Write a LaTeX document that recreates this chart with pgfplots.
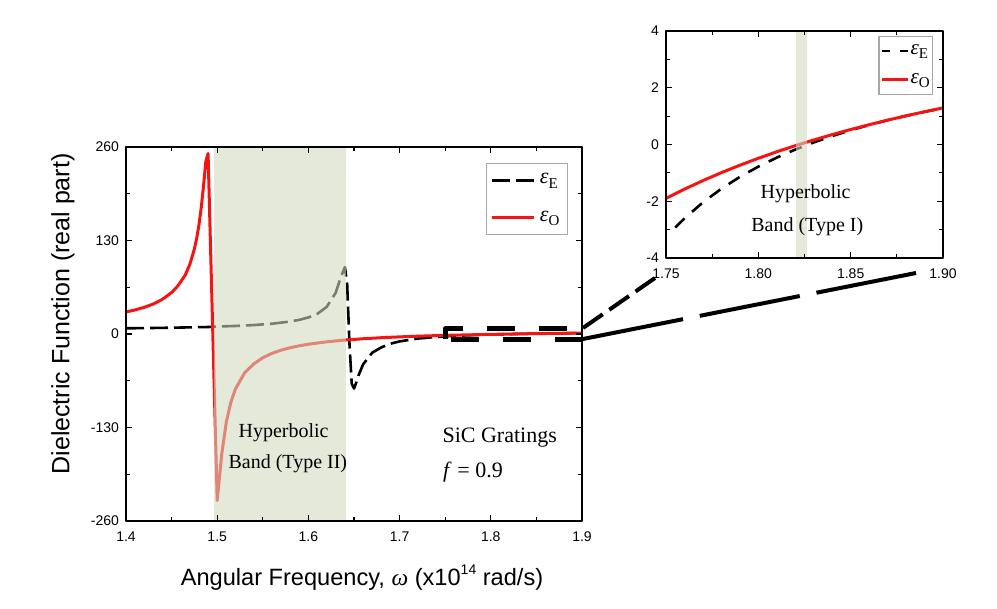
\documentclass[border=0pt]{standalone}
\usepackage{fontspec}
\setmainfont{Liberation Sans}
\newfontfamily\serif{Liberation Serif}
\usepackage{pgfplots}
\pgfplotsset{compat=1.18}
\definecolor{bandc}{RGB}{208,217,191}
\definecolor{myred}{RGB}{245,20,20}
\newcommand{\epsE}{{\serif\itshape ε}\raisebox{-0.4ex}{\serif\fontsize{7.5}{7.5}\selectfont E}}
\newcommand{\epsO}{{\serif\itshape ε}\raisebox{-0.4ex}{\serif\fontsize{7.5}{7.5}\selectfont O}}
\pgfplotsset{
  common/.style={
    scale only axis, clip=false, axis on top,
    tick align=inside, major tick length=3pt, minor tick length=1.8pt,
    tick style={black, line width=0.6pt},
    axis line style={line width=0.8pt},
    ticklabel style={font=\fontsize{7}{8}\selectfont},
    xticklabel style={yshift=-2pt},
  }
}
\begin{document}
\begin{tikzpicture}[line join=round]
\path[use as bounding box] (0,0) rectangle (498.5pt,304.5pt);
\begin{axis}[common, name=main, at={(63pt,44pt)}, anchor=south west,
  width=228pt, height=187pt,
  xmin=1.4, xmax=1.9, ymin=-260, ymax=260,
  xtick={1.4,1.5,1.6,1.7,1.8,1.9}, xticklabels={1.4,1.5,1.6,1.7,1.8,1.9},
  minor x tick num=1,
  ytick={-260,-130,0,130,260}, yticklabels={-260,-130,0,130,260},
  minor y tick num=1,
  legend style={at={(1,1)}, anchor=north east, xshift=-7pt, yshift=-8pt,
    draw=gray!70, line width=0.6pt, font=\fontsize{11}{12}\selectfont,
    row sep=8pt, inner xsep=2pt, inner ysep=3pt, cells={anchor=west},
    nodes={inner xsep=2pt}},
  legend image code/.code={\draw[#1] (0pt,0pt) -- (21pt,0pt);},
]
\addplot[black, line width=1.3pt, line join=round, dash pattern=on 9pt off 3pt] coordinates {
(1.40,7.90) (1.42,8.20) (1.44,8.56) (1.46,8.99) (1.48,9.49) (1.49,9.69)
(1.50,10.36) (1.52,11.18) (1.54,12.41) (1.56,14.28) (1.58,17.31) (1.59,19.66)
(1.60,23.06) (1.61,28.2) (1.62,37.6) (1.63,57.5) (1.635,77.1) (1.64,93.0)
(1.6425,69.6) (1.645,-12.6) (1.6475,-69.0) (1.65,-75.9) (1.6525,-67.4)
(1.655,-57.4) (1.66,-42.2) (1.67,-26.0) (1.68,-18.6) (1.69,-13.5) (1.70,-10.3)
(1.72,-6.36) (1.74,-4.08) (1.76,-2.61) (1.78,-1.56) (1.80,-0.78) (1.83,0.07)
(1.86,0.69) (1.90,1.28)};
\addlegendentry{\epsE}
\addplot[myred, line width=1.5pt, line join=round] coordinates {
(1.40,30.65) (1.41,33.47) (1.42,37.06) (1.43,41.77) (1.44,48.23) (1.45,57.63)
(1.455,64.1) (1.46,72.55) (1.465,82.1) (1.47,96.8) (1.475,118.3) (1.4775,133.0)
(1.48,151.6) (1.4825,175.5) (1.485,205.7) (1.4875,239.7) (1.49,251.0)
(1.50,-231.6) (1.505,-166.9) (1.51,-122.3) (1.515,-94.7) (1.52,-76.4)
(1.53,-54.2) (1.54,-41.7) (1.55,-33.0) (1.56,-26.9) (1.57,-22.5) (1.58,-19.1)
(1.59,-16.4) (1.60,-14.2) (1.62,-10.9) (1.64,-8.44) (1.66,-6.61) (1.68,-5.17)
(1.70,-4.00) (1.72,-3.05) (1.74,-2.25) (1.75,-1.90) (1.80,-0.486) (1.85,0.528)
(1.90,1.291)};
\addlegendentry{\epsO}
\addplot[fill=bandc, fill opacity=0.58, draw=none, forget plot] coordinates {
(1.497,-260) (1.497,260) (1.641,260) (1.641,-260)} -- cycle;
\draw[line width=2.5pt, dash pattern=on 14pt off 12pt] (axis cs:1.75,-7) rectangle (axis cs:1.9,7);
\node[font=\serif\fontsize{10}{12}\selectfont] at (axis cs:1.5728,-137.6) {Hyperbolic};
\node[font=\serif\fontsize{10}{12}\selectfont] at (axis cs:1.5775,-181) {Band (Type II)};
\node[font=\serif\fontsize{11}{12}\selectfont] at (axis cs:1.8098,-144.6) {SiC Gratings};
\node[font=\serif\fontsize{11}{12}\selectfont, anchor=west, inner sep=0pt] at (axis cs:1.7474,-191.9) {\textit{f} = 0.9};
\end{axis}
\begin{axis}[common, name=inset, at={(333pt,175.5pt)}, anchor=south west,
  width=138.5pt, height=113.5pt,
  xmin=1.75, xmax=1.9, ymin=-4, ymax=4,
  xtick={1.75,1.8,1.85,1.9}, xticklabels={1.75,1.80,1.85,1.90},
  minor x tick num=1,
  ytick={-4,-2,0,2,4}, yticklabels={-4,-2,0,2,4},
  minor y tick num=1,
  legend style={at={(1,1)}, anchor=north east, xshift=-5pt, yshift=-2.5pt,
    draw=gray!70, line width=0.6pt, font=\fontsize{10.5}{12}\selectfont,
    row sep=4pt, inner xsep=0.5pt, inner ysep=2pt, cells={anchor=west},
    nodes={inner xsep=0.8pt}},
  legend image code/.code={\draw[#1, dash phase=2.5pt] (0pt,0pt) -- (13pt,0pt);},
]
\addplot[black, line width=1.3pt, dash pattern=on 6.5pt off 5pt] coordinates {
(1.755,-2.926) (1.76,-2.605) (1.77,-2.040) (1.78,-1.558) (1.79,-1.141)
(1.80,-0.780) (1.81,-0.461) (1.82,-0.179) (1.83,0.073) (1.84,0.299)
(1.85,0.502) (1.86,0.687) (1.87,0.856) (1.88,1.010) (1.89,1.151) (1.90,1.282)};
\addlegendentry{\epsE}
\addplot[myred, line width=1.5pt] coordinates {
(1.75,-1.90) (1.76,-1.574) (1.77,-1.273) (1.78,-0.992) (1.79,-0.730)
(1.80,-0.486) (1.81,-0.257) (1.82,-0.042) (1.83,0.159) (1.84,0.349)
(1.85,0.528) (1.86,0.698) (1.87,0.858) (1.88,1.010) (1.89,1.154) (1.90,1.291)};
\addlegendentry{\epsO}
\addplot[fill=bandc, fill opacity=0.58, draw=none, forget plot] coordinates {
(1.8205,-4) (1.8205,4) (1.8265,4) (1.8265,-4)} -- cycle;
\node[font=\serif\fontsize{10}{12}\selectfont] at (axis cs:1.8256,-1.745) {Hyperbolic};
\node[font=\serif\fontsize{10}{12}\selectfont] at (axis cs:1.8265,-2.897) {Band (Type I)};
\end{axis}
\draw[line width=2pt, dash pattern=on 12pt off 4pt] (291.5pt,140.5pt) -- (327.5pt,165.5pt);
\draw[line width=2pt, dash pattern=on 51pt off 8.5pt] (291.5pt,135pt) -- (458pt,168pt);
\node[font=\fontsize{11.8}{14}\selectfont] at (181pt,15.5pt) {Angular Frequency, {\serif\itshape ω} (x10\raisebox{0.9ex}{\fontsize{7}{7}\selectfont 14} rad/s)};
\node[rotate=90, font=\fontsize{12.5}{14}\selectfont] at (31.5pt,147.5pt) {Dielectric Function (real part)};
\end{tikzpicture}
\end{document}
